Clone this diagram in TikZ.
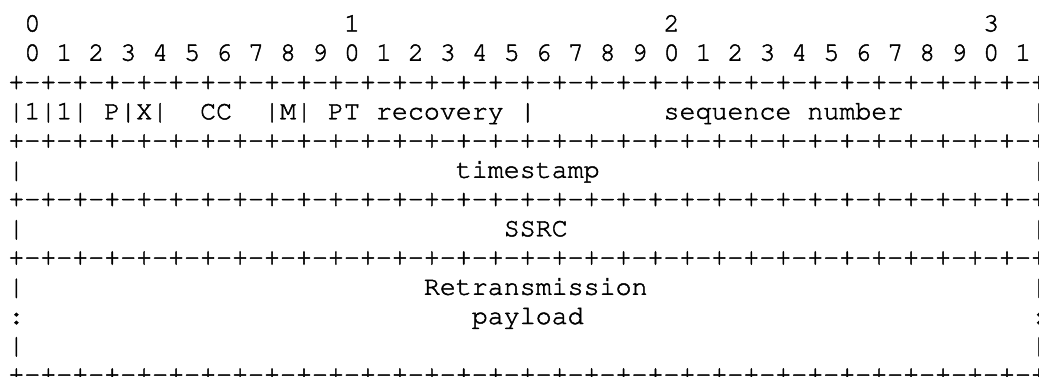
\documentclass[tikz,border=0pt]{standalone}
\usepackage[T1]{fontenc}
\newcommand\monofont{\fontencoding{T1}\fontfamily{pcr}\fontsize{26.63}{29.25}\selectfont}
\newcommand\monotext[1]{\special{pdf:literal 2 Tr 0.45 w}\spaceskip=15.98pt plus 0pt minus 0pt\relax #1\special{pdf:literal 0 Tr}}
\begin{document}
\begin{tikzpicture}[x=1pt,y=1pt,
  txt/.style={anchor=base west, inner sep=0pt, outer sep=0pt, text=black, font=\monofont}]
\useasboundingbox (0,0) rectangle (1039,-376);
\fill[white] (0,0) rectangle (1039,-376);
\newcommand\cellat[4]{\node[txt] (#1) at ({8.4+#2*15.98},{-31.5-(#3-1)*29.25}) {\monotext{#4}};}
\newcommand\borderline[1]{\cellat{b#1}{0}{#1}{+-+-+-+-+-+-+-+-+-+-+-+-+-+-+-+-+-+-+-+-+-+-+-+-+-+-+-+-+-+-+-+-+}}
% row 1: tens
\cellat{t0}{1}{1}{0}
\cellat{t1}{21}{1}{1}
\cellat{t2}{41}{1}{2}
\cellat{t3}{61}{1}{3}
% row 2: units
\foreach \i in {0,...,31} {
  \pgfmathtruncatemacro\d{mod(\i,10)}
  \pgfmathtruncatemacro\c{2*\i+1}
  \cellat{u\i}{\c}{2}{\d}
}
% separators
\borderline{3}
\borderline{5}
\borderline{7}
\borderline{9}
\borderline{13}
% row 4
\foreach \c in {0,2,4,7,9,16,18,32,64} { \cellat{r4bar\c}{\c}{4}{|} }
\cellat{v1}{1}{4}{1}
\cellat{v2}{3}{4}{1}
\cellat{pbit}{6}{4}{P}
\cellat{xbit}{8}{4}{X}
\cellat{cc}{12}{4}{CC}
\cellat{mbit}{17}{4}{M}
\cellat{pt}{20}{4}{PT recovery}
\cellat{seq}{41}{4}{sequence number}
% row 6
\cellat{r6l}{0}{6}{|}
\cellat{r6r}{64}{6}{|}
\cellat{ts}{28}{6}{timestamp}
% row 8
\cellat{r8l}{0}{8}{|}
\cellat{r8r}{64}{8}{|}
\cellat{ssrc}{31}{8}{SSRC}
% rows 10-12
\cellat{r10l}{0}{10}{|}
\cellat{r10r}{64}{10}{|}
\cellat{retx}{26}{10}{Retransmission}
\cellat{r11l}{0}{11}{:}
\cellat{r11r}{64}{11}{:}
\cellat{pay}{29}{11}{payload}
\cellat{r12l}{0}{12}{|}
\cellat{r12r}{64}{12}{|}
\end{tikzpicture}
\end{document}
